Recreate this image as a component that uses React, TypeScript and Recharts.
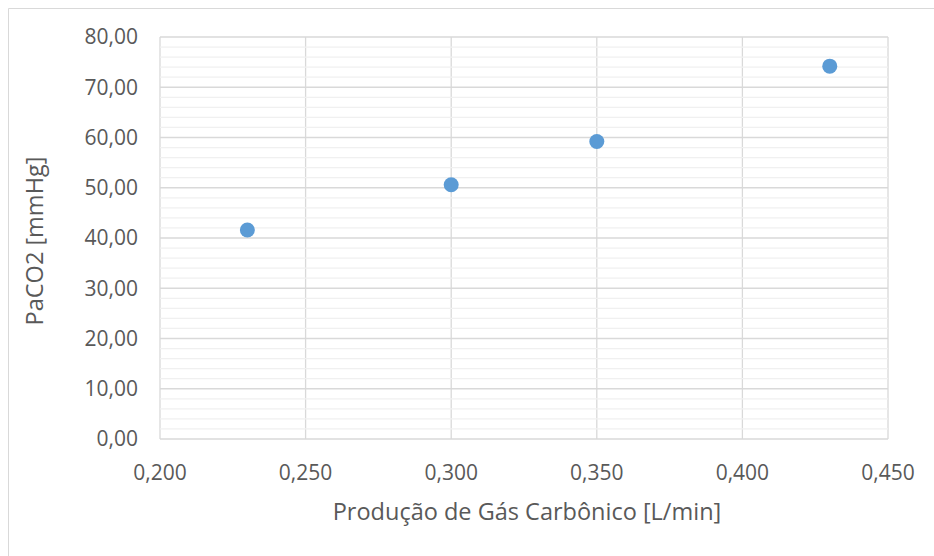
import React from "react";
import {
  ScatterChart,
  Scatter,
  XAxis,
  YAxis,
  CartesianGrid,
  ReferenceLine,
  Label,
} from "recharts";

// Produção de CO2 [L/min] vs PaCO2 [mmHg]
const co2Production = [0.23, 0.3, 0.35, 0.43];
const paco2 = [41.6, 50.6, 59.2, 74.2];

const xTicks = [0.2, 0.25, 0.3, 0.35, 0.4, 0.45];
const yTicks = [0, 10, 20, 30, 40, 50, 60, 70, 80];
// minor gridlines every 2 mmHg (majors excluded)
const yMinorTicks = [
  2, 4, 6, 8, 12, 14, 16, 18, 22, 24, 26, 28, 32, 34, 36, 38, 42, 44, 46, 48,
  52, 54, 56, 58, 62, 64, 66, 68, 72, 74, 76, 78,
];

const data = co2Production.map((x, i) => ({ x, y: paco2[i] }));

const FONT = "'Open Sans', sans-serif";
const TEXT = "#595959";

const fmt = (v: number, digits: number) => v.toFixed(digits).replace(".", ",");

const Dot = (props: any) => {
  const { cx, cy } = props;
  if (cx == null || cy == null) return null;
  return <circle cx={cx} cy={cy} r={7.5} fill="#5b9bd5" />;
};

export default function App() {
  return (
    <div
      style={{
        position: "absolute",
        left: 0,
        top: 0,
        width: 934,
        height: 556,
        background: "#fff",
        fontFamily: FONT,
      }}
    >
      <svg
        width={934}
        height={556}
        style={{ position: "absolute", left: 0, top: 0 }}
      >
        <line x1={8.5} y1={8.5} x2={934} y2={8.5} stroke="#d9d9d9" />
        <line x1={8.5} y1={8.5} x2={8.5} y2={556} stroke="#d9d9d9" />
      </svg>
      <div style={{ position: "absolute", left: 0, top: 0 }}>
        <ScatterChart
          width={934}
          height={556}
          margin={{ top: 37, right: 46, left: 60, bottom: 57 }}
        >
          <CartesianGrid stroke="#d9d9d9" strokeWidth={1.3} />
          {yMinorTicks.map((v) => (
            <ReferenceLine key={v} y={v} stroke="#f0f0f0" strokeWidth={1.3} />
          ))}
          <XAxis
            type="number"
            dataKey="x"
            domain={[0.2, 0.45]}
            ticks={xTicks}
            tickFormatter={(v: number) => fmt(v, 3)}
            axisLine={false}
            tickLine={false}
            tickSize={0}
            tickMargin={26}
            height={60}
            tick={{ fill: TEXT, fontSize: 21, fontFamily: FONT }}
          >
            <Label
              content={({ viewBox }: any) => (
                <text
                  x={viewBox.x + viewBox.width / 2 + 3}
                  y={520}
                  textAnchor="middle"
                  fill={TEXT}
                  fontSize={23.5}
                  fontFamily={FONT}
                >
                  Produção de Gás Carbônico [L/min]
                </text>
              )}
            />
          </XAxis>
          <YAxis
            type="number"
            dataKey="y"
            domain={[0, 80]}
            ticks={yTicks}
            tickFormatter={(v: number) => fmt(v, 2)}
            axisLine={false}
            tickLine={false}
            tickSize={0}
            tickMargin={22}
            width={100}
            tick={{ fill: TEXT, fontSize: 21, fontFamily: FONT }}
          >
            <Label
              content={({ viewBox }: any) => {
                const cy = viewBox.y + viewBox.height / 2 + 3;
                return (
                  <text
                    x={43}
                    y={cy}
                    transform={`rotate(-90 43 ${cy})`}
                    textAnchor="middle"
                    fill={TEXT}
                    fontSize={23.5}
                    fontFamily={FONT}
                  >
                    PaCO2 [mmHg]
                  </text>
                );
              }}
            />
          </YAxis>
          <Scatter data={data} shape={<Dot />} isAnimationActive={false} />
        </ScatterChart>
      </div>
    </div>
  );
}
